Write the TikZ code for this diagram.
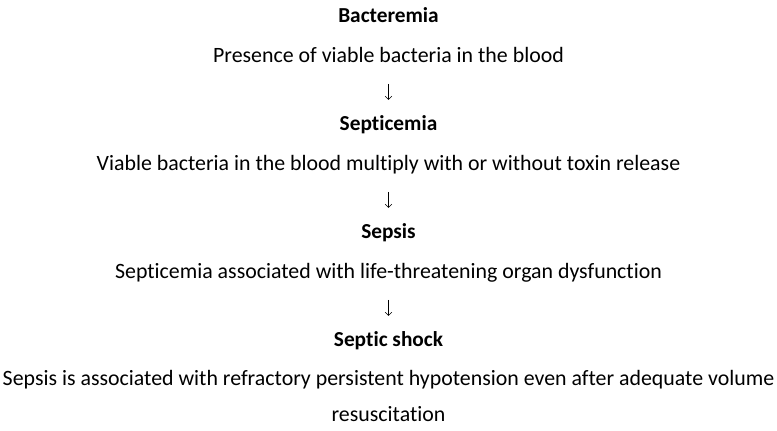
\documentclass[tikz,border=0pt]{standalone}
\usepackage{fontspec}
\setmainfont{Carlito}[Ligatures=NoCommon]
\usetikzlibrary{arrows.meta, positioning}

\begin{document}
\begin{tikzpicture}[
    ttl/.style={font=\fontsize{16}{19}\selectfont\bfseries, inner sep=0pt, text height=11pt, text depth=4pt},
    dsc/.style={font=\fontsize{16.4}{19}\selectfont, inner sep=0pt, text height=11pt, text depth=4pt},
    arrow/.style={-{Straight Barb[length=2.5pt, width=5pt]}, thin, shorten <=12pt, shorten >=12pt}
]
    \useasboundingbox (-291.375pt,13.5pt) rectangle (291.375pt,-309.75pt);

    \node[ttl] (t1) at (0,0) {Bacteremia};
    \node[dsc, below=14.25pt of t1] (d1) {Presence of viable bacteria in the blood};
    \node[ttl, below=36pt of d1] (t2) {Septicemia};
    \node[dsc, below=14.25pt of t2] (d2) {Viable bacteria in the blood multiply with or without toxin release};
    \node[ttl, below=36pt of d2] (t3) {Sepsis};
    \node[dsc, below=14.25pt of t3] (d3) {Septicemia associated with life-threatening organ dysfunction};
    \node[ttl, below=36pt of d3] (t4) {Septic shock};
    \node[font=\fontsize{16.4}{27}\selectfont, inner sep=0pt, align=center, below=13.5pt of t4] (d4)
        {Sepsis is associated with refractory persistent hypotension even after adequate volume\\resuscitation};

    \draw[arrow] (d1) -- (t2);
    \draw[arrow] (d2) -- (t3);
    \draw[arrow] (d3) -- (t4);
\end{tikzpicture}
\end{document}
